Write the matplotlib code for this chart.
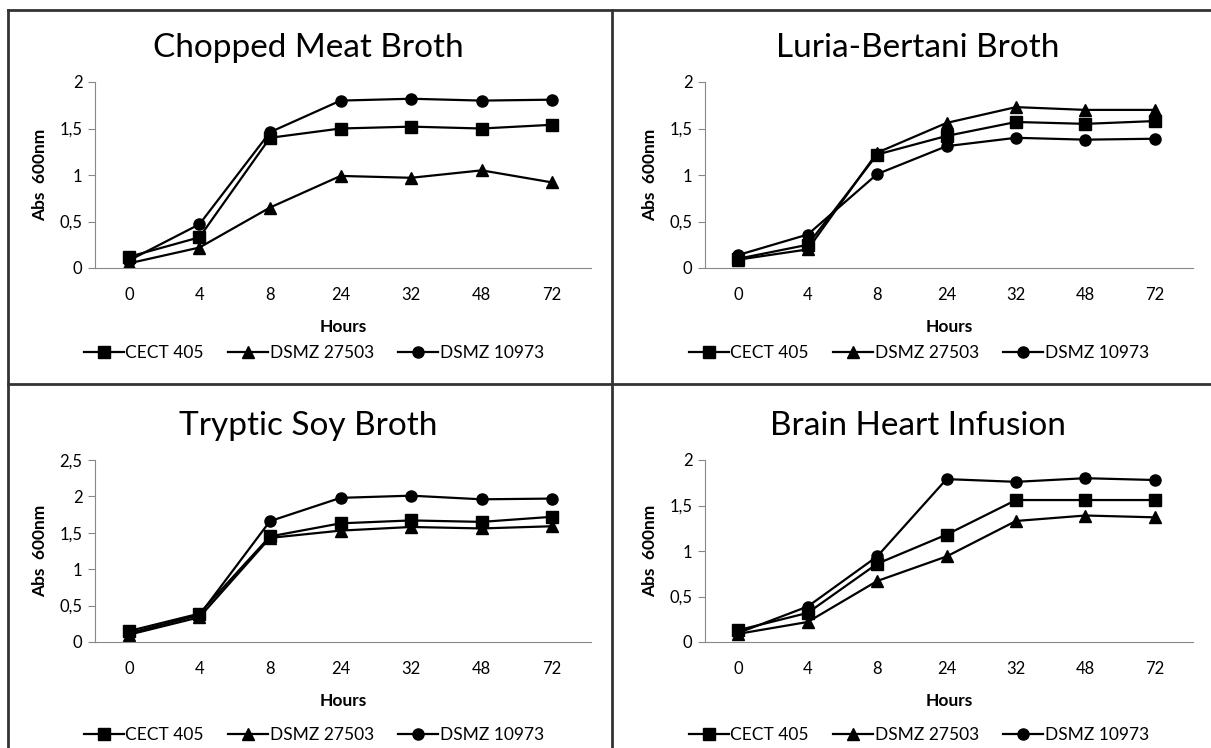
import matplotlib
matplotlib.use("Agg")
import matplotlib.pyplot as plt
from matplotlib.lines import Line2D
from matplotlib.ticker import FuncFormatter, MultipleLocator

plt.rcParams['font.family'] = ['Lato', 'DejaVu Sans']

hours = ['0', '4', '8', '24', '32', '48', '72']
strains = ['CECT 405', 'DSMZ 27503', 'DSMZ 10973']
markers = ['s', '^', 'o']

# absorbance readings, one list per strain
cmb_cect = [0.12, 0.33, 1.40, 1.50, 1.52, 1.50, 1.54]
cmb_27503 = [0.05, 0.22, 0.65, 0.99, 0.97, 1.05, 0.92]
cmb_10973 = [0.08, 0.47, 1.46, 1.80, 1.82, 1.80, 1.81]

lb_cect = [0.10, 0.25, 1.22, 1.42, 1.57, 1.55, 1.58]
lb_27503 = [0.09, 0.20, 1.24, 1.56, 1.73, 1.70, 1.70]
lb_10973 = [0.14, 0.36, 1.01, 1.31, 1.40, 1.38, 1.39]

tsb_cect = [0.15, 0.39, 1.45, 1.63, 1.67, 1.65, 1.72]
tsb_27503 = [0.10, 0.34, 1.43, 1.53, 1.58, 1.56, 1.59]
tsb_10973 = [0.12, 0.37, 1.66, 1.98, 2.01, 1.96, 1.97]

bhi_cect = [0.13, 0.32, 0.86, 1.18, 1.56, 1.56, 1.56]
bhi_27503 = [0.09, 0.22, 0.67, 0.94, 1.33, 1.39, 1.37]
bhi_10973 = [0.10, 0.39, 0.94, 1.79, 1.76, 1.80, 1.78]

panels = [
    ('Chopped Meat Broth', [cmb_cect, cmb_27503, cmb_10973], 2.0),
    ('Luria-Bertani Broth', [lb_cect, lb_27503, lb_10973], 2.0),
    ('Tryptic Soy Broth', [tsb_cect, tsb_27503, tsb_10973], 2.5),
    ('Brain Heart Infusion', [bhi_cect, bhi_27503, bhi_10973], 2.0),
]

W, H = 1211, 748
fig = plt.figure(figsize=(W / 100, H / 100), dpi=100)

# axes boxes in pixels: left, top(y of max), right, bottom(y of 0)
boxes = [(95, 82, 591, 268), (705, 82, 1193, 268),
         (95, 460, 591, 642), (705, 460, 1193, 642)]
centers = [308, 918, 308, 918]
leg_pos = [(314, 353), (919, 353), (314, 735), (919, 735)]


def comma(v, pos):
    s = ('%g' % v).replace('.', ',')
    return s


for (title, series, ymax), (l, t, r, b), cx, (lx, ly) in zip(panels, boxes, centers, leg_pos):
    ax = fig.add_axes([l / W, 1 - b / H, (r - l) / W, (b - t) / H])
    x = list(range(len(hours)))
    for vals, mk, name in zip(series, markers, strains):
        ax.plot(x, vals, color='black', lw=1.6, marker=mk, ms=8, label=name)
    ax.set_xlim(-0.48, 6.55)
    ax.set_ylim(0, ymax)
    ax.set_xticks(x)
    ax.set_xticklabels(hours)
    ax.yaxis.set_major_locator(MultipleLocator(0.5))
    ax.yaxis.set_major_formatter(FuncFormatter(comma))
    ax.spines['top'].set_visible(False)
    ax.spines['right'].set_visible(False)
    ax.spines['left'].set_color('#888888')
    ax.spines['bottom'].set_color('#888888')
    ax.tick_params(axis='x', length=0, pad=14, labelsize=12)
    ax.tick_params(axis='y', length=5, color='#888888', pad=4, labelsize=12)
    ax.set_xlabel('Hours', fontsize=12.5, fontweight='bold', labelpad=11)
    ax.set_ylabel('Abs  600nm', fontsize=12.5, fontweight='bold', labelpad=8)
    fig.text(cx / W, 1 - (t - 34) / H, title, fontsize=24, ha='center', va='center')
    ax.legend(loc='center', bbox_to_anchor=(lx / W, 1 - ly / H),
              bbox_transform=fig.transFigure, ncol=3, frameon=False,
              fontsize=12.5, handlelength=2.3, handletextpad=0.1, columnspacing=1.4,
              borderpad=0.2)

# panel frame lines
frame = dict(color='#333333', lw=2)
fig.add_artist(Line2D([8 / W, 1], [1 - 10 / H] * 2, transform=fig.transFigure, **frame))
fig.add_artist(Line2D([8 / W, 1], [1 - 384 / H] * 2, transform=fig.transFigure, **frame))
fig.add_artist(Line2D([8 / W] * 2, [0, 1 - 10 / H], transform=fig.transFigure, **frame))
fig.add_artist(Line2D([612 / W] * 2, [0, 1 - 10 / H], transform=fig.transFigure, **frame))

fig.savefig('out.png', dpi=100)
